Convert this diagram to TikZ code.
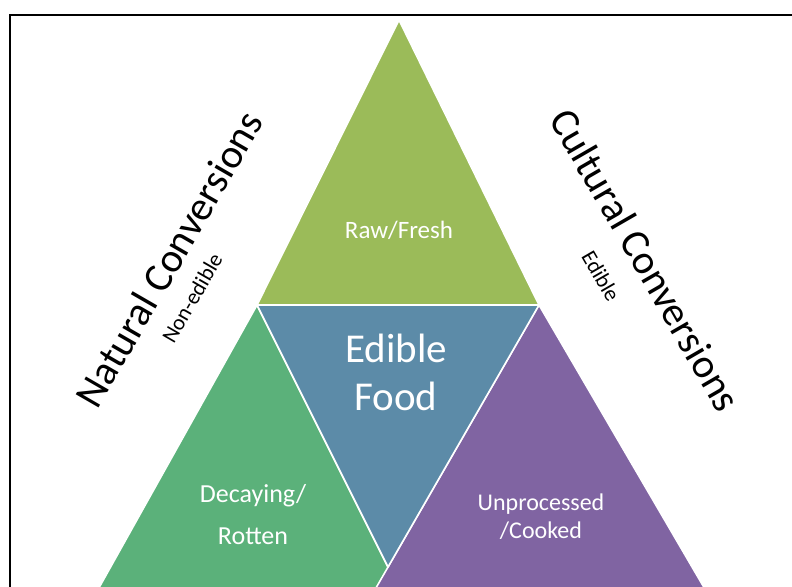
\documentclass[tikz,border=0pt]{standalone}
\usepackage{fontspec}
\setmainfont{Carlito}
\usetikzlibrary{positioning}
\definecolor{rawgreen}{RGB}{155,187,89}
\definecolor{rotgreen}{RGB}{91,177,122}
\definecolor{foodblue}{RGB}{92,139,168}
\definecolor{cookpurple}{RGB}{128,100,162}

\begin{document}
\begin{tikzpicture}[x=1pt,y=-1pt]
\tikzstyle{part}=[draw=white, line width=1.6pt, line join=round]
\tikzstyle{inner}=[text=white, align=center, inner sep=0pt]
\tikzstyle{side}=[text=black, inner sep=0pt]
\useasboundingbox (0,0) rectangle (792,586);
\begin{scope}
\clip (0,0) rectangle (792,586);
	% corners
	\coordinate (apex) at (399,20);
	\coordinate (midl) at (257,305);
	\coordinate (midr) at (539,305);
	\coordinate (low) at (388,567);
	\coordinate (rotl) at (81,620);
	\coordinate (rotr) at (414.5,620);
	\coordinate (cookl) at (357.5,620);
	\coordinate (cookr) at (723,620);

	\filldraw[part, fill=rawgreen] (apex) -- (midl) -- (midr) -- cycle;
	\filldraw[part, fill=rotgreen] (midl) -- (rotl) -- (rotr) -- cycle;
	\filldraw[part, fill=cookpurple] (midr) -- (cookl) -- (cookr) -- cycle;
	\filldraw[part, fill=foodblue] (midl) -- (midr) -- (low) -- cycle;

	% frame
	\draw[line width=2pt] (10,640) -- (10,15) -- (800,15);
\end{scope}

	\node[inner, font=\fontsize{25}{30}\selectfont, anchor=base] (raw) at (399,238) {Raw/Fresh};
	\node[inner, font=\fontsize{41}{48}\selectfont] (food) at (396,372) {Edible\\Food};
	\node[inner, font=\fontsize{26}{42}\selectfont] (rot) at (253,515) {Decaying/\\Rotten};
	\node[inner, font=\fontsize{24}{28}\selectfont] (cook) at (541,517) {Unprocessed\\/Cooked};

	\node[side, font=\fontsize{41}{48}\selectfont, rotate=60] (natural) at (169,259) {Natural Conversions};
	\node[side, font=\fontsize{22}{26}\selectfont, rotate=60] (nonedible) at (192,298) {Non-edible};
	\node[side, font=\fontsize{41}{48}\selectfont, rotate=-60] (cultural) at (646,260) {Cultural Conversions};
	\node[side, font=\fontsize{22}{26}\selectfont, rotate=-60] (edible) at (601,276) {Edible};
\end{tikzpicture}
\end{document}
